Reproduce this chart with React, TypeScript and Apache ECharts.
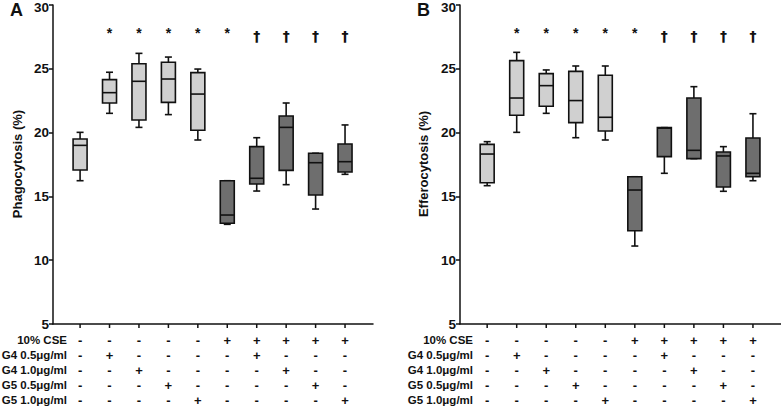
import React, { useEffect, useRef } from "react";
import * as echarts from "echarts";

// Group positions (1..10)
const groups = [1, 2, 3, 4, 5, 6, 7, 8, 9, 10];

// Panel A: Phagocytosis (%)
const phagoMin = [16.23, 21.51, 20.41, 21.41, 19.42, 12.81, 15.42, 15.92, 14.01, 16.73];
const phagoQ1 = [17.07, 22.32, 20.99, 22.37, 20.18, 12.89, 15.97, 17.04, 15.11, 16.91];
const phagoMed = [19.0, 23.13, 24.02, 24.2, 23.02, 13.54, 16.42, 20.41, 17.64, 17.72];
const phagoQ3 = [19.5, 24.15, 25.4, 25.51, 24.7, 16.23, 18.9, 21.3, 18.38, 19.11];
const phagoMax = [20.02, 24.73, 26.21, 25.92, 24.98, 16.23, 19.6, 22.32, 18.38, 20.6];

// Panel B: Efferocytosis (%)
const efferoMin = [15.84, 20.02, 21.51, 19.6, 19.42, 11.11, 16.81, 17.96, 15.4, 16.23];
const efferoQ1 = [16.07, 21.36, 22.06, 20.78, 20.13, 12.31, 18.12, 17.96, 15.74, 16.54];
const efferoMed = [18.32, 22.71, 23.68, 22.51, 21.2, 15.5, 20.35, 18.61, 18.17, 16.81];
const efferoQ3 = [19.08, 25.64, 24.62, 24.8, 24.49, 16.54, 20.39, 22.71, 18.48, 19.58];
const efferoMax = [19.29, 26.29, 24.91, 25.22, 25.22, 16.54, 20.39, 23.6, 18.9, 21.48];

// Significance markers
const sigMarks = ["", "*", "*", "*", "*", "*", "†", "†", "†", "†"];

// Treatment table
const rowLabels = ["10% CSE", "G4 0.5μg/ml", "G4 1.0μg/ml", "G5 0.5μg/ml", "G5 1.0μg/ml"];
const cseRow = ["-", "-", "-", "-", "-", "+", "+", "+", "+", "+"];
const g405Row = ["-", "+", "-", "-", "-", "-", "+", "-", "-", "-"];
const g410Row = ["-", "-", "+", "-", "-", "-", "-", "+", "-", "-"];
const g505Row = ["-", "-", "-", "+", "-", "-", "-", "-", "+", "-"];
const g510Row = ["-", "-", "-", "-", "+", "-", "-", "-", "-", "+"];
const tableRows = [cseRow, g405Row, g410Row, g505Row, g510Row];

// Y axis ticks
const yTicks = { min: 5, max: 30, interval: 5 };
const yTickLabels = ["5", "10", "15", "20", "25", "30"];

const X_MIN = 0.08;
const X_MAX = 10.95;

const FONT = "'Liberation Sans', Arial, Helvetica, sans-serif";
const DAGGER_FONT = "'DejaVu Sans', 'Liberation Sans', sans-serif";
const INK = "#111111";
const LIGHT = "#d0d0d0";
const DARK = "#6e6e6e";

function boxData(mn: number[], q1: number[], md: number[], q3: number[], mx: number[]) {
  return groups.map((g, i) => [g, mn[i], q1[i], md[i], q3[i], mx[i], cseRow[i] === "+" ? 1 : 0]);
}

function renderBox(params: any, api: any) {
  const x = api.value(0);
  const pMin = api.coord([x, api.value(1)]);
  const pQ1 = api.coord([x, api.value(2)]);
  const pMed = api.coord([x, api.value(3)]);
  const pQ3 = api.coord([x, api.value(4)]);
  const pMax = api.coord([x, api.value(5)]);
  const dark = api.value(6) === 1;
  const cx = pMed[0];
  const half = 7;
  const cap = 3.5;
  const ls = { stroke: INK, lineWidth: 1.6 };
  return {
    type: "group",
    children: [
      { type: "line", shape: { x1: cx, y1: pMax[1], x2: cx, y2: pQ3[1] }, style: ls },
      { type: "line", shape: { x1: cx, y1: pQ1[1], x2: cx, y2: pMin[1] }, style: ls },
      { type: "line", shape: { x1: cx - cap, y1: pMax[1], x2: cx + cap, y2: pMax[1] }, style: ls },
      { type: "line", shape: { x1: cx - cap, y1: pMin[1], x2: cx + cap, y2: pMin[1] }, style: ls },
      {
        type: "rect",
        shape: { x: cx - half, y: pQ3[1], width: half * 2, height: pQ1[1] - pQ3[1] },
        style: { fill: dark ? DARK : LIGHT, stroke: INK, lineWidth: 1.6 },
      },
      { type: "line", shape: { x1: cx - half, y1: pMed[1], x2: cx + half, y2: pMed[1] }, style: ls },
    ],
  };
}

function renderExtras(params: any, api: any) {
  const x = api.value(0);
  const i = api.value(1);
  const base = api.coord([x, yTicks.min]);
  const top = api.coord([x, 27.65]);
  const cx = base[0];
  const children: any[] = [
    { type: "line", shape: { x1: cx, y1: base[1], x2: cx, y2: base[1] + 4 }, style: { stroke: INK, lineWidth: 1.5 } },
  ];
  const mark = sigMarks[i];
  if (mark) {
    const isStar = mark === "*";
    children.push({
      type: "text",
      x: cx,
      y: top[1] + (isStar ? -2 : 1),
      style: {
        text: mark,
        fill: INK,
        font: isStar ? `bold 14px ${FONT}` : `bold 14px ${DAGGER_FONT}`,
        align: "center",
        verticalAlign: "middle",
      },
    });
  }
  tableRows.forEach((row, r) => {
    children.push({
      type: "text",
      x: cx,
      y: base[1] + 16 + r * 15,
      style: {
        text: row[i],
        fill: INK,
        font: `bold 13px ${FONT}`,
        align: "center",
        verticalAlign: "middle",
      },
    });
  });
  return { type: "group", children };
}

function renderYLabel(params: any, api: any) {
  const v = api.value(1);
  const p = api.coord([X_MIN, v]);
  return {
    type: "text",
    x: p[0] - 4,
    y: Math.max(p[1], 7),
    style: {
      text: yTickLabels[params.dataIndex],
      fill: INK,
      font: `bold 13.5px ${FONT}`,
      align: "right",
      verticalAlign: "middle",
    },
  };
}

export default function App() {
  const ref = useRef<HTMLDivElement>(null);
  useEffect(() => {
    document.body.style.margin = "0";
    if (!ref.current) return;
    const chart = echarts.init(ref.current, undefined, { renderer: "svg" });
    const xAxisBase = {
      type: "value",
      min: X_MIN,
      max: X_MAX,
      axisLine: { show: true, lineStyle: { color: INK, width: 1.5 } },
      axisTick: { show: false },
      axisLabel: { show: false },
      splitLine: { show: false },
    };
    const yAxisBase = {
      type: "value",
      min: yTicks.min,
      max: yTicks.max,
      interval: yTicks.interval,
      axisLine: { show: true, lineStyle: { color: INK, width: 1.5 } },
      axisTick: { show: true, length: 4, lineStyle: { color: INK, width: 1.5 } },
      axisLabel: { show: false },
      splitLine: { show: false },
    };
    const extraData = groups.map((g, i) => [g, i]);
    const yLabelData = yTickLabels.map((t) => [X_MIN, Number(t)]);
    const graphicTexts: any[] = [];
    const panels = [
      { letter: "A", lx: 10, labelRight: 67, name: "Phagocytosis (%)", nameX: 17 },
      { letter: "B", lx: 417, labelRight: 473, name: "Efferocytosis (%)", nameX: 423 },
    ];
    panels.forEach((p) => {
      graphicTexts.push({
        type: "text",
        left: p.lx,
        top: 1,
        style: { text: p.letter, fill: INK, font: `bold 18px ${FONT}` },
      });
      graphicTexts.push({
        type: "text",
        x: p.nameX,
        y: 164,
        rotation: Math.PI / 2,
        style: {
          text: p.name,
          fill: INK,
          font: `bold 13px ${FONT}`,
          align: "center",
          verticalAlign: "middle",
        },
      });
      rowLabels.forEach((lab, r) => {
        graphicTexts.push({
          type: "text",
          x: p.labelRight,
          y: 340 + r * 15,
          style: {
            text: lab,
            fill: INK,
            font: `bold 11.5px ${FONT}`,
            align: "right",
            verticalAlign: "middle",
          },
        });
      });
    });
    const seriesFor = (gi: number, name: string, data: number[][]) => [
      { type: "custom", name, xAxisIndex: gi, yAxisIndex: gi, clip: false, renderItem: renderBox, data },
      { type: "custom", xAxisIndex: gi, yAxisIndex: gi, clip: false, renderItem: renderExtras, data: extraData },
      { type: "custom", xAxisIndex: gi, yAxisIndex: gi, clip: false, renderItem: renderYLabel, data: yLabelData },
    ];
    chart.setOption({
      animation: false,
      backgroundColor: "#ffffff",
      grid: [
        { left: 53, top: 5, width: 320, height: 319 },
        { left: 460, top: 5, width: 321, height: 319 },
      ],
      xAxis: [
        { ...xAxisBase, gridIndex: 0 },
        { ...xAxisBase, gridIndex: 1 },
      ],
      yAxis: [
        { ...yAxisBase, gridIndex: 0 },
        { ...yAxisBase, gridIndex: 1 },
      ],
      graphic: graphicTexts,
      series: [
        ...seriesFor(0, "Phagocytosis", boxData(phagoMin, phagoQ1, phagoMed, phagoQ3, phagoMax)),
        ...seriesFor(1, "Efferocytosis", boxData(efferoMin, efferoQ1, efferoMed, efferoQ3, efferoMax)),
      ],
    });
    return () => chart.dispose();
  }, []);
  return <div ref={ref} style={{ width: 781, height: 409 }} />;
}
